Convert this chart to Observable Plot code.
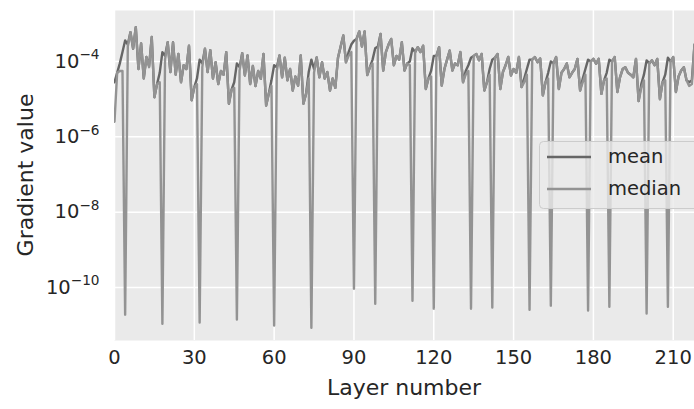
<!DOCTYPE html>
<html><head><meta charset="utf-8">
<script src="https://cdn.jsdelivr.net/npm/d3@7"></script>
<script src="https://cdn.jsdelivr.net/npm/@observablehq/plot@0.6"></script>
<style>
html,body{margin:0;padding:0;background:#fff;}
#chart{position:relative;width:694px;height:409px;overflow:hidden;}
</style></head><body><div id="chart"></div>
<script>
// log10 of gradient values, one per layer (layer number = index)
const meanLog10 = [
-4.55,-4.30,-4.05,-3.75,-3.44,-3.55,-3.22,-3.66,-3.09,-4.20,
-3.52,-4.45,-3.88,-4.12,-3.35,-4.95,-4.60,-4.30,-3.75,-3.85,
-3.49,-4.28,-3.49,-4.35,-3.80,-4.55,-4.10,-4.20,-3.58,-5.03,
-4.68,-4.45,-3.95,-4.05,-3.66,-4.28,-3.70,-4.45,-4.02,-4.60,
-4.25,-4.35,-3.75,-5.12,-4.75,-4.55,-4.05,-4.15,-3.78,-4.37,
-3.84,-4.60,-4.12,-4.65,-4.25,-4.46,-3.80,-5.17,-4.85,-4.50,
-4.10,-4.15,-3.84,-4.42,-3.90,-4.50,-4.20,-4.77,-4.40,-4.64,
-3.84,-5.12,-4.86,-4.28,-3.95,-4.20,-3.89,-4.42,-4.02,-4.45,
-4.28,-4.77,-4.45,-4.70,-3.90,-3.60,-3.31,-4.02,-3.75,-3.55,
-3.45,-3.40,-3.20,-3.60,-3.20,-4.36,-4.15,-3.95,-3.65,-3.60,
-3.27,-4.24,-3.75,-3.55,-3.40,-4.10,-3.85,-3.95,-3.49,-4.24,
-4.05,-4.00,-3.65,-3.75,-3.62,-3.75,-3.58,-4.73,-4.45,-4.25,
-3.85,-3.85,-3.62,-4.64,-4.20,-3.95,-3.71,-4.24,-4.05,-4.10,
-3.75,-4.55,-4.25,-4.10,-3.90,-3.85,-3.80,-3.97,-3.80,-4.77,
-4.55,-4.20,-3.95,-3.90,-3.80,-4.73,-4.28,-4.10,-3.88,-4.37,
-4.20,-4.30,-3.88,-4.68,-4.45,-4.20,-3.95,-3.95,-3.88,-4.02,
-3.92,-4.90,-4.55,-4.30,-4.00,-4.05,-3.88,-4.73,-4.30,-4.20,
-4.05,-4.42,-4.30,-4.20,-3.93,-4.77,-4.45,-4.20,-3.95,-4.00,
-3.93,-4.06,-3.93,-4.86,-4.50,-4.30,-3.95,-4.00,-3.88,-4.81,
-4.42,-4.20,-4.15,-4.30,-4.35,-4.42,-3.93,-5.05,-4.60,-4.35,
-3.97,-4.05,-3.97,-4.10,-3.93,-5.00,-4.55,-4.35,-3.90,-4.00,
-3.88,-4.81,-4.40,-4.24,-4.15,-4.50,-4.55,-4.50,-3.55
];
const medianLog10 = [
-5.60,-4.30,-4.25,-4.25,-10.72,-3.60,-3.22,-3.66,-3.09,-4.20,
-3.52,-4.45,-3.88,-4.15,-3.35,-4.95,-4.60,-4.55,-10.96,-3.95,
-3.49,-4.28,-3.49,-4.35,-3.80,-4.55,-4.10,-4.20,-3.58,-5.03,
-4.68,-4.60,-10.93,-4.15,-3.66,-4.28,-3.70,-4.45,-4.02,-4.60,
-4.25,-4.35,-3.75,-5.12,-4.75,-4.70,-10.85,-4.25,-3.78,-4.37,
-3.84,-4.60,-4.12,-4.65,-4.25,-4.46,-3.80,-5.17,-4.85,-4.65,
-11.01,-4.25,-3.84,-4.42,-3.90,-4.50,-4.20,-4.77,-4.40,-4.64,
-3.84,-5.12,-4.86,-4.45,-11.07,-4.30,-3.89,-4.42,-4.02,-4.45,
-4.28,-4.77,-4.45,-4.70,-3.90,-3.60,-3.31,-4.02,-3.85,-3.75,
-10.03,-3.40,-3.20,-3.60,-3.20,-4.36,-4.15,-4.05,-10.43,-3.70,
-3.27,-4.24,-3.75,-3.55,-3.40,-4.10,-3.85,-3.95,-3.49,-4.24,
-4.05,-4.10,-10.35,-3.75,-3.62,-3.75,-3.58,-4.73,-4.45,-4.40,
-10.56,-3.85,-3.62,-4.64,-4.20,-3.95,-3.71,-4.24,-4.05,-4.10,
-3.75,-4.55,-4.35,-4.25,-10.56,-3.85,-3.80,-3.97,-3.80,-4.77,
-4.55,-4.35,-10.53,-3.90,-3.80,-4.73,-4.28,-4.10,-3.88,-4.37,
-4.20,-4.30,-3.88,-4.68,-4.55,-4.35,-10.59,-3.95,-3.88,-4.02,
-3.92,-4.90,-4.55,-4.45,-10.48,-4.05,-3.88,-4.73,-4.30,-4.20,
-4.05,-4.42,-4.30,-4.20,-3.93,-4.77,-4.55,-4.35,-10.61,-4.00,
-3.93,-4.06,-3.93,-4.86,-4.50,-4.45,-10.51,-4.00,-3.88,-4.81,
-4.42,-4.20,-4.15,-4.30,-4.35,-4.42,-3.93,-5.05,-4.70,-4.50,
-10.69,-4.05,-3.97,-4.10,-3.93,-5.00,-4.55,-4.50,-10.51,-4.00,
-3.88,-4.81,-4.40,-4.24,-4.15,-4.50,-4.65,-4.60,-3.55
];
const seriesNames = ["mean", "median"];
const seriesColors = ["#666666", "#939393"];
const xTicks = [0, 30, 60, 90, 120, 150, 180, 210];
const yTicks = [1e-4, 1e-6, 1e-8, 1e-10];
const yTickLabels = ["10^\u22124", "10^\u22126", "10^\u22128", "10^\u221210"];
const xLabel = "Layer number";
const yLabel = "Gradient value";

const data = meanLog10.map((m, i) => ({
  layer: i,
  mean: Math.pow(10, m),
  median: Math.pow(10, medianLog10[i])
}));
const yLabelMap = new Map(yTicks.map((t, i) => [t, yTickLabels[i]]));

const FONT = "DejaVu Sans";
const TXT = "#262626";

const svg = Plot.plot({
  width: 694,
  height: 409,
  marginLeft: 114,
  marginRight: 0,
  marginTop: 10,
  marginBottom: 69,
  style: {fontFamily: FONT, fontSize: "19.5px", color: TXT, background: "white", overflow: "visible"},
  x: {domain: [0, 218]},
  y: {type: "log", domain: [Math.pow(10, -11.406), Math.pow(10, -2.646)]},
  marks: [
    Plot.frame({fill: "#eaeaea", stroke: null}),
    Plot.gridX(xTicks, {stroke: "white", strokeOpacity: 1, strokeWidth: 1.5}),
    Plot.gridY(yTicks, {stroke: "white", strokeOpacity: 1, strokeWidth: 1.5}),
    Plot.axisX({ticks: xTicks, tickSize: 0, tickPadding: 10, label: null, fontSize: 19.5, tickFormat: d => String(d)}),
    Plot.axisY({ticks: yTicks, tickSize: 0, tickPadding: 15, label: null, fontSize: 19.5, tickFormat: d => yLabelMap.get(d)}),
    Plot.line(data, {x: "layer", y: "mean", stroke: seriesColors[0], strokeWidth: 2.4, clip: true}),
    Plot.line(data, {x: "layer", y: "median", stroke: seriesColors[1], strokeWidth: 2.4, clip: true})
  ]
});

const s = d3.select(svg);
// superscript exponents on y tick labels
s.selectAll('g[aria-label="y-axis tick label"] text').each(function () {
  const t = d3.select(this);
  const parts = t.text().split("^");
  if (parts.length === 2) {
    t.text(parts[0]);
    t.append("tspan").attr("dy", "-0.62em").attr("font-size", "0.7em").text(parts[1]);
  }
});
s.selectAll('g[aria-label="x-axis tick label"] text, g[aria-label="y-axis tick label"] text').attr("fill", TXT);

// axis titles
s.append("text").attr("x", 404).attr("y", 395).attr("text-anchor", "middle")
  .attr("font-family", FONT).attr("font-size", 22).attr("fill", TXT).text(xLabel);
s.append("text").attr("transform", "translate(33,175) rotate(-90)").attr("text-anchor", "middle")
  .attr("font-family", FONT).attr("font-size", 22).attr("fill", TXT).text(yLabel);

// legend
const lg = s.append("g").attr("font-family", FONT).attr("font-size", 19.5).attr("text-anchor", "start");
lg.append("rect").attr("x", 539.5).attr("y", 141.5).attr("width", 170).attr("height", 67).attr("rx", 4)
  .attr("fill", "#eaeaea").attr("fill-opacity", 0.8).attr("stroke", "#cccccc");
seriesNames.forEach((name, i) => {
  const yy = 157 + i * 32;
  lg.append("line").attr("x1", 547).attr("x2", 591).attr("y1", yy).attr("y2", yy)
    .attr("stroke", seriesColors[i]).attr("stroke-width", 2.4);
  lg.append("text").attr("x", 608).attr("y", yy).attr("dy", "0.3em").attr("text-anchor", "start")
    .attr("fill", TXT).text(name);
});

document.getElementById("chart").appendChild(svg);
</script>
</body></html>
